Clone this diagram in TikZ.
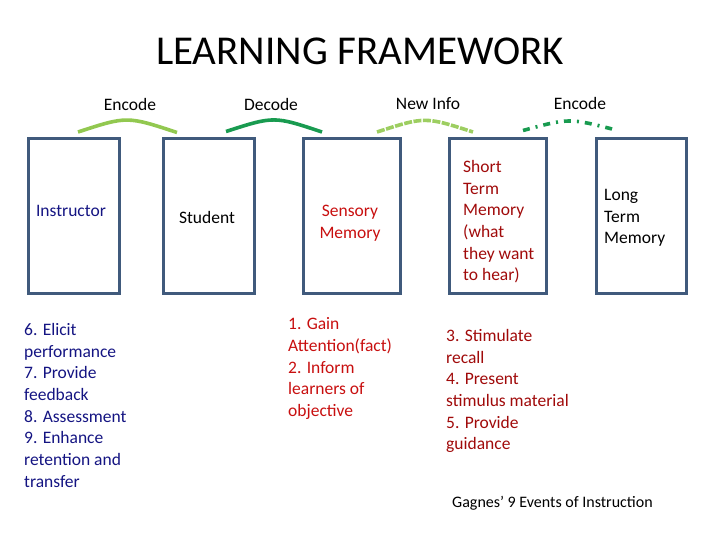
\documentclass[tikz,border=0pt]{standalone}
\usepackage{fontspec}
\setmainfont{Carlito}
\definecolor{boxc}{RGB}{64,90,124}
\definecolor{lgreen}{RGB}{146,200,80}
\definecolor{dgreen}{RGB}{25,155,80}
\definecolor{navy}{RGB}{20,20,130}
\definecolor{red1}{RGB}{200,15,15}
\definecolor{red2}{RGB}{160,10,10}
\tikzset{
  box/.style={draw=boxc, line width=3pt, minimum height=154pt, inner sep=0pt},
  arcline/.style={line width=3.6pt},
  txt/.style={font=\fontsize{17.5}{21.7}\selectfont, align=left, inner sep=0pt},
  lbl/.style={font=\fontsize{17.5}{19}\selectfont, inner sep=0pt},
}
\begin{document}
\begin{tikzpicture}[x=1pt,y=-1pt]
\useasboundingbox (0,0) rectangle (720,540);
\node[font=\fontsize{41}{44}\selectfont, inner sep=0pt] (title) at (360,51.5) {LEARNING FRAMEWORK};
% boxes
\node[box, minimum width=91pt] (b1) at (73.5,216) {};
\node[box, minimum width=91pt] (b2) at (208.5,216) {};
\node[box, minimum width=97pt] (b3) at (351.5,216) {};
\node[box, minimum width=97pt] (b4) at (497.5,216) {};
\node[box, minimum width=90pt] (b5) at (641,216) {};
% top labels
\node[lbl] (l1) at (130,104) {Encode};
\node[lbl] (l2) at (271,104) {Decode};
\node[lbl] (l3) at (428,104) {New Info};
\node[lbl] (l4) at (580,103) {Encode};
% arcs
\coordinate (a1s) at (78,132); \coordinate (a1e) at (177,132.5);
\coordinate (a2s) at (226,131.5); \coordinate (a2e) at (322,132);
\coordinate (a3s) at (377,132); \coordinate (a3e) at (473,132);
\coordinate (a4s) at (523,130.5); \coordinate (a4e) at (614,129.5);
\draw[arcline, lgreen] (a1s) .. controls (127,116) .. (a1e);
\draw[arcline, dgreen] (a2s) .. controls (274,116) .. (a2e);
\draw[arcline, lgreen!90!white, dash pattern=on 8pt off 1.5pt] (a3s) .. controls (425,116.5) .. (a3e);
\draw[arcline, dgreen, dash pattern=on 7pt off 6pt on 2pt off 6pt] (a4s) .. controls (569,118) .. (a4e);
% box texts
\node[txt, text=navy] (t1) at (71,211) {Instructor};
\node[txt] (t2) at (207,217) {Student};
\node[txt, text=red1, align=center] (t3) at (350,223) {Sensory\\Memory};
\node[txt, text=red2, anchor=north west] (t4) at (463,160) {Short\\Term\\Memory\\(what\\they want\\to hear)};
\node[txt, anchor=north west] (t5) at (604,189) {Long\\Term\\Memory};
% lists
\node[txt, text=navy, anchor=north west] (s1) at (24,323) {6. Elicit\\performance\\7. Provide\\feedback\\8. Assessment\\9. Enhance\\retention and\\transfer};
\node[txt, text=red1, anchor=north west] (s2) at (288,317.5) {1. Gain\\Attention(fact)\\2. Inform\\learners of\\objective};
\node[txt, text=red2, anchor=north west] (s3) at (446,329) {3. Stimulate\\recall\\4. Present\\stimulus material\\5. Provide\\guidance};
\node[font=\fontsize{16}{18}\selectfont, inner sep=0pt, anchor=west] (cap) at (452,503) {Gagnes’ 9 Events of Instruction};
\end{tikzpicture}
\end{document}
